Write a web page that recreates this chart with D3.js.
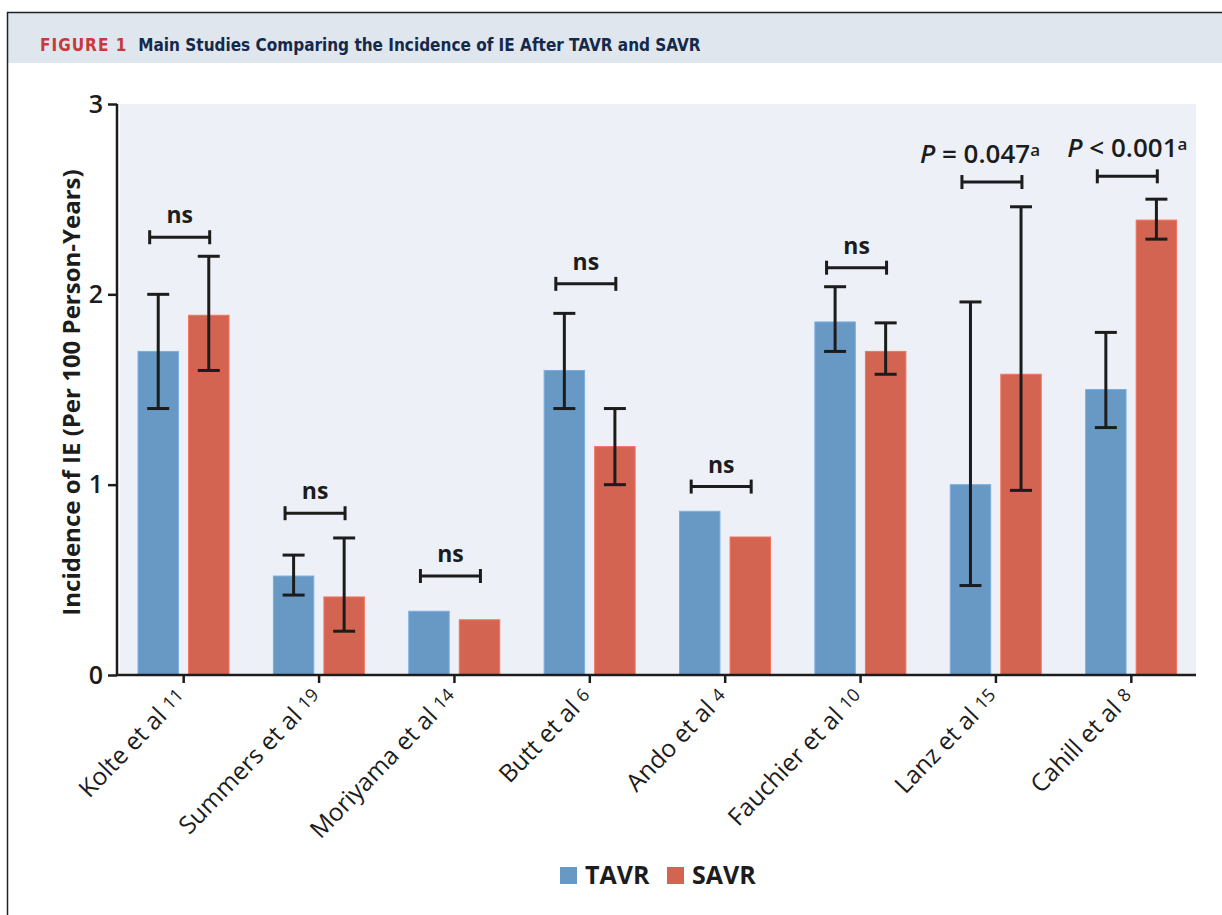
<!DOCTYPE html>
<html>
<head>
<meta charset="utf-8">
<script src="https://cdn.jsdelivr.net/npm/d3@7"></script>
<style>
  html, body { margin: 0; padding: 0; background: #fff; }
  svg { display: block; }
  text { font-family: "Open Sans", "Noto Sans", sans-serif; }
</style>
</head>
<body>
<svg id="chart" width="1222" height="915"></svg>
<script>
// ---------- data ----------
const studies   = ["Kolte et al", "Summers et al", "Moriyama et al", "Butt et al", "Ando et al", "Fauchier et al", "Lanz et al", "Cahill et al"];
const refNums   = ["11", "19", "14", "6", "4", "10", "15", "8"];
const series    = ["TAVR", "SAVR"];
const tavr      = [1.70, 0.52, 0.335, 1.60, 0.86, 1.855, 1.00, 1.50];
const savr      = [1.89, 0.41, 0.29, 1.20, 0.725, 1.70, 1.58, 2.39];
const tavrLow   = [1.40, 0.42, null, 1.40, null, 1.70, 0.47, 1.30];
const tavrHigh  = [2.00, 0.63, null, 1.90, null, 2.04, 1.96, 1.80];
const savrLow   = [1.60, 0.23, null, 1.00, null, 1.58, 0.97, 2.29];
const savrHigh  = [2.20, 0.72, null, 1.40, null, 1.85, 2.46, 2.50];
const bracketY  = [2.30, 0.85, 0.52, 2.055, 0.99, 2.14, 2.59, 2.62];
const sigLabel  = ["ns", "ns", "ns", "ns", "ns", "ns", "P = 0.047", "P < 0.001"];
const yTicks    = [0, 1, 2, 3];
const yTitle    = "Incidence of IE (Per 100 Person-Years)";
const figLabel  = "FIGURE 1";
const figTitle  = "Main Studies Comparing the Incidence of IE After TAVR and SAVR";

const colors = { TAVR: "#6899c4", SAVR: "#d36451" };

// ---------- layout ----------
const svg = d3.select("#chart");
const pL = 117, pR = 1196, pT = 104, pB = 675;

// header frame
svg.append("rect").attr("x", 8).attr("y", 13).attr("width", 1214).attr("height", 50).attr("fill", "#dfe6ee");
svg.append("line").attr("x1", 7).attr("x2", 1222).attr("y1", 12.5).attr("y2", 12.5).attr("stroke", "#222").attr("stroke-width", 1.5);
svg.append("line").attr("x1", 7.5).attr("x2", 7.5).attr("y1", 12).attr("y2", 915).attr("stroke", "#222").attr("stroke-width", 1.5);

const head = svg.append("text").attr("x", 40).attr("y", 51)
  .style("font-family", "'DejaVu Sans Condensed', 'Open Sans', sans-serif")
  .style("font-weight", "bold").style("font-size", "17px");
head.append("tspan").attr("fill", "#c9383c").style("letter-spacing", "1px").text(figLabel);
head.append("tspan").attr("dx", 11).attr("fill", "#15294a").text(figTitle);

// scales
const x0 = d3.scaleBand().domain(studies).range([pL - 1, pR + 3]);
const x1 = d3.scaleBand().domain(series).range([22, 113]).paddingInner(0.2);
const y = d3.scaleLinear().domain([0, 3]).range([pB, pT]);

// plot background
svg.append("rect").attr("x", pL + 3).attr("y", y(3)).attr("width", pR - pL - 3).attr("height", pB - y(3)).attr("fill", "#edf0f6");

// bars
const rows = studies.map((s, i) => ({
  study: s,
  vals: [
    { key: "TAVR", v: tavr[i], lo: tavrLow[i], hi: tavrHigh[i] },
    { key: "SAVR", v: savr[i], lo: savrLow[i], hi: savrHigh[i] }
  ]
}));

const g = svg.append("g");
const grp = g.selectAll("g.grp").data(rows).join("g").attr("class", "grp")
  .attr("transform", d => `translate(${x0(d.study)},0)`);

grp.selectAll("rect").data(d => d.vals).join("rect")
  .attr("x", d => x1(d.key)).attr("width", x1.bandwidth())
  .attr("y", d => y(d.v)).attr("height", d => y(0) - y(d.v))
  .attr("fill", d => colors[d.key])
  .attr("stroke", d => d3.color(colors[d.key]).brighter(0.4)).attr("stroke-width", 1);

// error bars
const capW = 11;
const eb = grp.selectAll("g.eb").data(d => d.vals.filter(v => v.lo != null)).join("g").attr("class", "eb")
  .attr("stroke", "#1c1c1c").attr("stroke-width", 3);
eb.append("line").attr("x1", d => x1(d.key) + x1.bandwidth() / 2).attr("x2", d => x1(d.key) + x1.bandwidth() / 2)
  .attr("y1", d => y(d.lo)).attr("y2", d => y(d.hi));
eb.append("line").attr("x1", d => x1(d.key) + x1.bandwidth() / 2 - capW).attr("x2", d => x1(d.key) + x1.bandwidth() / 2 + capW)
  .attr("y1", d => y(d.hi)).attr("y2", d => y(d.hi));
eb.append("line").attr("x1", d => x1(d.key) + x1.bandwidth() / 2 - capW).attr("x2", d => x1(d.key) + x1.bandwidth() / 2 + capW)
  .attr("y1", d => y(d.lo)).attr("y2", d => y(d.lo));

// significance brackets
const br = svg.append("g").selectAll("g").data(studies).join("g")
  .attr("transform", (d, i) => `translate(${x0(d) + x0.bandwidth() / 2 - 4},${y(bracketY[i])})`);
br.append("line").attr("x1", -30).attr("x2", 30).attr("stroke", "#1c1c1c").attr("stroke-width", 3);
br.append("line").attr("x1", -30).attr("x2", -30).attr("y1", -7).attr("y2", 7).attr("stroke", "#1c1c1c").attr("stroke-width", 3);
br.append("line").attr("x1", 30).attr("x2", 30).attr("y1", -7).attr("y2", 7).attr("stroke", "#1c1c1c").attr("stroke-width", 3);
br.each(function(d, i) {
  const t = d3.select(this).append("text").attr("y", -14).attr("text-anchor", "middle")
    .attr("fill", "#1c1c1c").style("font-size", "23px").style("font-weight", "bold");
  const lab = sigLabel[i];
  if (lab.startsWith("P")) {
    t.attr("y", -19).attr("x", i === 6 ? -12 : 0).style("font-weight", "600").style("font-size", "26px");
    t.append("tspan").style("font-style", "italic").text("P");
    t.append("tspan").text(lab.slice(1));
    t.append("tspan").attr("dy", -7).style("font-size", "17px").text("a");
  } else {
    t.text(lab);
  }
});

// y axis
const yAxis = d3.axisLeft(y).tickValues(yTicks).tickFormat(d3.format("d")).tickSize(9).tickPadding(5);
const ya = svg.append("g").attr("transform", `translate(${pL},0)`).call(yAxis);
ya.select(".domain").attr("stroke", "#1c1c1c").attr("stroke-width", 2.5).attr("d", `M0,${pT}V${pB}`);
ya.selectAll(".tick line").attr("stroke", "#1c1c1c").attr("stroke-width", 2.5);
ya.selectAll(".tick text").attr("fill", "#1c1c1c").style("font-size", "25px").style("font-weight", "600")
  .style("font-family", "'Open Sans', sans-serif");

// x axis
const xAxis = d3.axisBottom(x0).tickSize(8).tickFormat("");
const xa = svg.append("g").attr("transform", `translate(0,${pB})`).call(xAxis);
xa.select(".domain").attr("stroke", "#1c1c1c").attr("stroke-width", 2.5).attr("d", `M${pL},0H${pR}`);
xa.selectAll(".tick line").attr("stroke", "#1c1c1c").attr("stroke-width", 2.5);
xa.selectAll(".tick").each(function(d, i) {
  const t = d3.select(this).append("text")
    .attr("transform", "translate(3,23) rotate(-46)")
    .attr("text-anchor", "end").attr("fill", "#1c1c1c")
    .style("font-size", "24.5px").style("font-family", "'Open Sans', sans-serif");
  t.append("tspan").text(d + " ");
  t.append("tspan").attr("dy", -3).style("font-size", "18px").text(refNums[i]);
});

// y title
svg.append("text").attr("transform", `translate(80,${(pT + pB) / 2 + 3}) rotate(-90)`)
  .attr("text-anchor", "middle").attr("fill", "#1c1c1c")
  .style("font-size", "24px").style("font-weight", "bold").text(yTitle);

// legend
const lg = svg.append("g").attr("transform", "translate(560,867)");
const li = lg.selectAll("g").data(series).join("g").attr("transform", (d, i) => `translate(${i * 107},0)`);
li.append("rect").attr("width", 17).attr("height", 17).attr("fill", d => colors[d]);
li.append("text").attr("x", 25).attr("y", 17).attr("fill", "#1c1c1c")
  .style("font-size", "25px").style("font-weight", "bold").text(d => d);
</script>
</body>
</html>
